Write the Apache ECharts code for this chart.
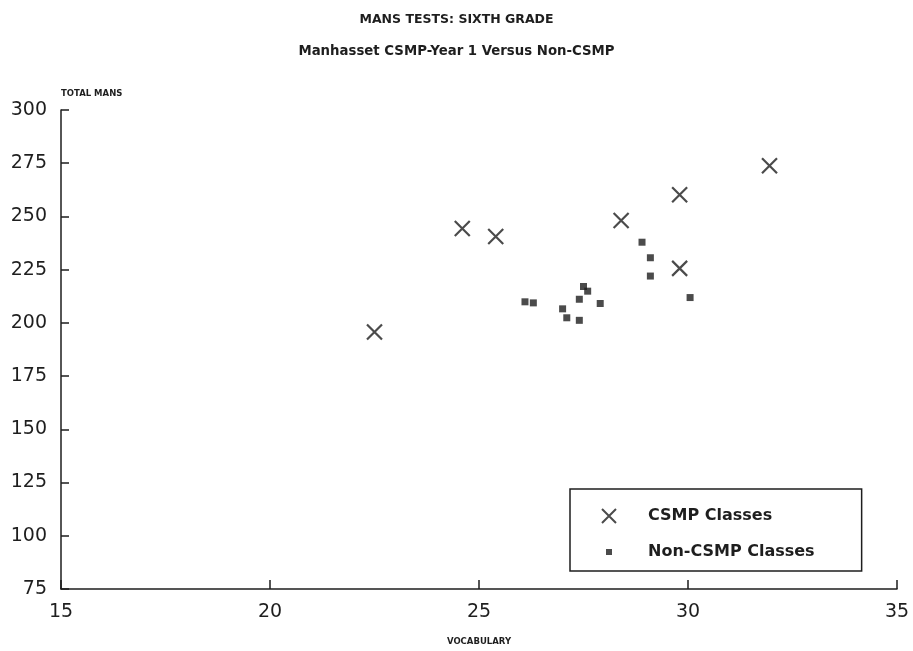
<!DOCTYPE html>
<html>
<head>
<meta charset="utf-8">
<script src="https://cdn.jsdelivr.net/npm/echarts@6/dist/echarts.min.js"></script>
<style>
  html, body { margin: 0; padding: 0; background: #fff; }
  #chart { width: 913px; height: 651px; }
</style>
</head>
<body>
<div id="chart"></div>
<script>
// Vocabulary score vs total MANS score
const csmpPoints = [
  [22.5, 195.7],
  [24.6, 244.3],
  [25.4, 240.6],
  [28.4, 248.1],
  [29.8, 260.2],
  [29.8, 225.6],
  [31.95, 273.8]
];
const nonCsmpPoints = [
  [26.1, 209.9],
  [26.3, 209.4],
  [27.0, 206.6],
  [27.1, 202.4],
  [27.4, 201.2],
  [27.4, 211.1],
  [27.5, 217.1],
  [27.6, 214.9],
  [27.9, 209.1],
  [28.9, 237.9],
  [29.1, 230.6],
  [29.1, 222.0],
  [30.05, 211.9]
];
const seriesNames = ['CSMP Classes', 'Non-CSMP Classes'];

const ink = '#1e1e1e';
const crossSymbol = 'path://M0,0L10,10M10,0L0,10';
// small square inside a bigger empty box, so the legend icon stays small
const smallSquareIcon = 'path://M0,0M14,14M4,4h6v6h-6z';
const chart = echarts.init(document.getElementById('chart'));

chart.setOption({
  animation: false,
  title: {
    text: 'MANS TESTS: SIXTH GRADE',
    subtext: 'Manhasset CSMP-Year 1 Versus Non-CSMP',
    left: 'center',
    top: 8,
    itemGap: 19,
    textStyle: { fontFamily: 'DejaVu Sans', fontSize: 12.5, fontWeight: 'bold', color: ink },
    subtextStyle: { fontFamily: 'DejaVu Sans', fontSize: 13.3, fontWeight: 'bold', color: ink }
  },
  grid: { left: 61, right: 16, top: 110, bottom: 61 },
  xAxis: {
    type: 'value',
    min: 15,
    max: 35,
    interval: 5,
    name: 'VOCABULARY',
    nameLocation: 'middle',
    nameGap: 48,
    nameTextStyle: { fontFamily: 'DejaVu Sans', fontSize: 8.5, fontWeight: 'bold', color: ink },
    axisLine: { lineStyle: { color: ink, width: 1.5 } },
    axisTick: { inside: true, length: 9, lineStyle: { color: ink, width: 1.5 } },
    axisLabel: { fontFamily: 'DejaVu Sans', fontSize: 19, color: ink, margin: 14 },
    splitLine: { show: false }
  },
  yAxis: {
    type: 'value',
    min: 75,
    max: 300,
    interval: 25,
    name: 'TOTAL MANS',
    nameLocation: 'end',
    nameGap: 12,
    nameTextStyle: { fontFamily: 'DejaVu Sans', fontSize: 8.5, fontWeight: 'bold', color: ink, align: 'left' },
    axisLine: { show: true, lineStyle: { color: ink, width: 1.5 } },
    axisTick: { show: true, inside: true, length: 8, lineStyle: { color: ink, width: 1.5 } },
    axisLabel: { fontFamily: 'DejaVu Sans', fontSize: 19, color: ink, margin: 14 },
    splitLine: { show: false }
  },
  legend: {
    orient: 'vertical',
    left: 570,
    top: 489,
    padding: [19, 47, 11, 31],
    itemWidth: 14,
    itemHeight: 14,
    itemGap: 20,
    borderColor: ink,
    borderWidth: 1.5,
    borderRadius: 0,
    textStyle: { fontFamily: 'DejaVu Sans', fontSize: 16, fontWeight: 'bold', color: ink, padding: [0, 0, 0, 27] },
    data: [
      { name: seriesNames[0] },
      { name: seriesNames[1], icon: smallSquareIcon }
    ]
  },
  series: [
    {
      name: seriesNames[0],
      type: 'scatter',
      symbol: crossSymbol,
      symbolSize: 15,
      itemStyle: { color: 'rgba(0,0,0,0)', borderColor: ink, borderWidth: 2.2 },
      data: csmpPoints
    },
    {
      name: seriesNames[1],
      type: 'scatter',
      symbol: 'rect',
      symbolSize: 7,
      itemStyle: { color: ink },
      data: nonCsmpPoints
    }
  ]
});
</script>
</body>
</html>
